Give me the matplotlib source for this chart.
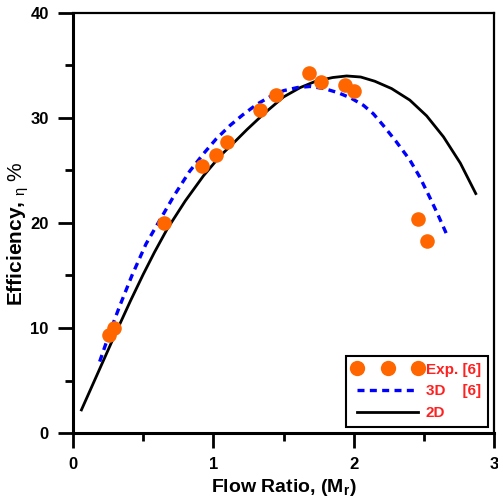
import matplotlib
matplotlib.use("Agg")
import matplotlib.pyplot as plt

# experimental points, Exp. [6]
exp_x = [0.26, 0.29, 0.65, 0.92, 1.02, 1.10, 1.33, 1.45, 1.68, 1.77, 1.94, 2.00, 2.46, 2.52]
exp_y = [9.3, 10.0, 20.0, 25.4, 26.5, 27.7, 30.8, 32.2, 34.3, 33.4, 33.1, 32.6, 20.4, 18.3]

# 3D [6] curve (dotted)
d3_x = [0.19, 0.26, 0.33, 0.42, 0.52, 0.62, 0.72, 0.83, 0.93, 1.02, 1.12, 1.21, 1.31,
        1.40, 1.50, 1.60, 1.69, 1.79, 1.89, 1.98, 2.07, 2.14, 2.21, 2.30, 2.40, 2.47,
        2.54, 2.60, 2.66]
d3_y = [6.8, 9.5, 12.0, 15.0, 18.0, 20.3, 22.6, 24.9, 26.6, 28.0, 29.3, 30.3, 31.3,
        32.0, 32.6, 32.9, 33.0, 32.8, 32.4, 31.9, 31.2, 30.4, 29.3, 27.8, 26.0, 24.4,
        22.5, 20.8, 19.0]

# 2D curve (solid)
d2_x = [0.06, 0.20, 0.30, 0.41, 0.50, 0.58, 0.67, 0.80, 0.93, 1.05, 1.15, 1.24, 1.36,
        1.50, 1.62, 1.73, 1.85, 1.95, 2.05, 2.15, 2.27, 2.40, 2.52, 2.64, 2.76, 2.87]
d2_y = [2.2, 6.4, 9.4, 12.6, 15.1, 17.2, 19.4, 22.1, 24.5, 26.4, 27.7, 28.9, 30.4,
        32.0, 32.9, 33.5, 33.85, 34.0, 33.9, 33.5, 32.8, 31.7, 30.2, 28.2, 25.7, 22.8]

plt.rcParams['font.family'] = ['Liberation Sans', 'DejaVu Sans']
plt.rcParams['mathtext.fontset'] = 'custom'
plt.rcParams['mathtext.rm'] = 'Liberation Sans'
plt.rcParams['mathtext.bf'] = 'Liberation Sans:bold'

fig = plt.figure(figsize=(4.98, 4.98), dpi=100)
ax = fig.add_axes([0.1466, 0.1305, 0.8454, 0.8435])

ax.plot(d2_x, d2_y, color='black', lw=2.0, label='2D', zorder=2)
ax.plot(d3_x, d3_y, color='#0000FF', lw=2.4, linestyle=(0, (2.1, 1.6)),
        dash_capstyle='butt', label='3D    [6]', zorder=3)
ax.plot(exp_x, exp_y, 'o', color='#FF6600', markersize=10.5, mec='none',
        label='Exp. [6]', zorder=4)

ax.set_xlim(0, 3)
ax.set_ylim(0, 40)
ax.set_xticks([0, 1, 2, 3])
ax.set_xticks([0.5, 1.5, 2.5], minor=True)
ax.set_yticks([0, 10, 20, 30, 40])
ax.set_yticks([5, 15, 25, 35], minor=True)

for s in ['left', 'bottom']:
    ax.spines[s].set_linewidth(2.2)
for s in ['top', 'right']:
    ax.spines[s].set_linewidth(1.6)

ax.tick_params(which='major', direction='out', length=10.5, width=2, pad=7, labelsize=12)
ax.tick_params(which='minor', direction='out', length=6, width=2)
for lab in ax.get_xticklabels() + ax.get_yticklabels():
    lab.set_fontweight('bold')

ax.set_xlabel(r'Flow Ratio, (M$_{\mathbf{r}}$)', fontsize=14, fontweight='bold', labelpad=3.5)
ax.set_ylabel(r'Efficiency, $_{\mathrm{\eta}}$ $\mathrm{\%}$', fontsize=15, fontweight='bold')
ax.yaxis.set_label_coords(-0.099, 0.475)

h, l = ax.get_legend_handles_labels()
leg = ax.legend(h[::-1], l[::-1], loc='lower right', numpoints=3, handlelength=4.6,
                handletextpad=0.2, fancybox=False, edgecolor='black', framealpha=1,
                borderaxespad=0.4, borderpad=0.45, labelspacing=0.5, markerscale=1.05,
                prop={'weight': 'bold', 'size': 11})
leg.get_frame().set_linewidth(1.5)
for t in leg.get_texts():
    t.set_color('#FF2020')

fig.savefig('out.png', dpi=100)
